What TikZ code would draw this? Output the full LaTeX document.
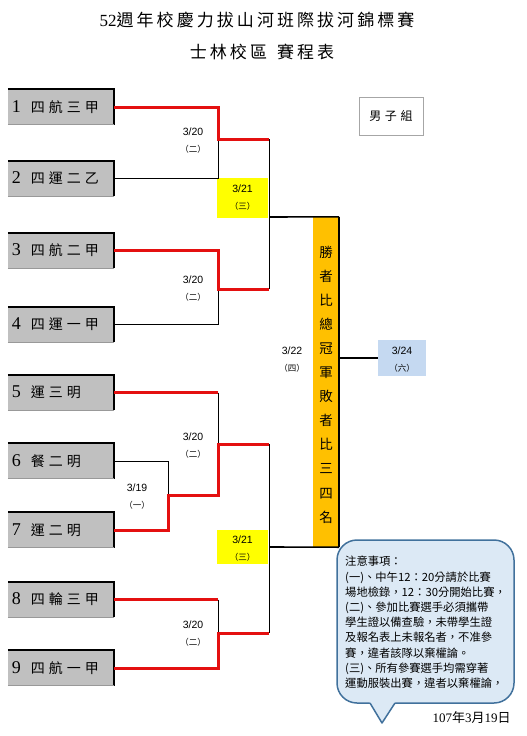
\documentclass[tikz,border=0pt]{standalone}
\usepackage{fontspec}
\setmainfont{Liberation Serif}
\newfontfamily\cjk{Noto Sans CJK TC}
\newfontfamily\cjkteam[LetterSpace=28]{Noto Sans CJK TC}
\newfontfamily\cjktitle[LetterSpace=18]{Noto Sans CJK TC}
\newfontfamily\cjkgrp[LetterSpace=30]{Noto Sans CJK TC}
\newfontfamily\datef{Liberation Sans}
\definecolor{teamgray}{RGB}{192,192,192}
\definecolor{winred}{RGB}{228,16,16}
\definecolor{ylw}{RGB}{255,255,0}
\definecolor{gold}{RGB}{255,192,0}
\definecolor{finblue}{RGB}{197,217,241}
\definecolor{notefill}{RGB}{220,233,245}
\definecolor{noteedge}{RGB}{65,113,156}
\newcommand\teamlabel[2]{{\fontsize{18}{18}\selectfont\rmfamily #1}\hspace{10pt}{\cjkteam\fontsize{14}{14}\selectfont #2}}
\newcommand\dlab[5]{\node[datetxt] (#1a) at (#2,#3) {#4}; \node[dowtxt] (#1b) at (#2,#3+17) {（#5）};}
\tikzset{
  team/.style={fill=teamgray, minimum height=35pt, text width=98pt, inner xsep=4pt, inner ysep=0pt, align=left},
  win/.style={draw=winred, line width=3pt},
  lose/.style={draw=black, line width=1pt},
  heavy/.style={draw=black, line width=1.6pt},
  datetxt/.style={font=\datef\fontsize{10.5}{12}\selectfont, inner sep=0pt},
  dowtxt/.style={font=\cjk\fontsize{8.5}{9}\selectfont, inner sep=0pt},
}
\begin{document}
\begin{tikzpicture}[x=1pt,y=-1pt]
\useasboundingbox (0,0) rectangle (527,736);
% titles
\node (title) at (257,20) {\fontsize{17}{17}\selectfont{\rmfamily 52}\cjktitle 週年校慶力拔山河班際拔河錦標賽};
\node (sub) at (262,52) {\cjktitle\fontsize{17}{17}\selectfont 士林校區\hspace{10pt}賽程表};
\node[draw=gray!70, line width=0.8pt, minimum width=64pt, minimum height=38pt, inner sep=0pt, font=\cjkgrp\fontsize{12}{12}\selectfont] (grp) at (391,116) {男子組};
% teams
\node[team] (t1) at (61,107) {\teamlabel{1}{四航三甲}};
\node[team] (t2) at (61,178.5) {\teamlabel{2}{四運二乙}};
\node[team] (t3) at (61,250.5) {\teamlabel{3}{四航二甲}};
\node[team] (t4) at (61,324.5) {\teamlabel{4}{四運一甲}};
\node[team] (t5) at (61,392.5) {\teamlabel{5}{運三明}};
\node[team] (t6) at (61,461) {\teamlabel{6}{餐二明}};
\node[team] (t7) at (61,530) {\teamlabel{7}{運二明}};
\node[team] (t8) at (61,599.5) {\teamlabel{8}{四輪三甲}};
\node[team] (t9) at (61,668) {\teamlabel{9}{四航一甲}};
\foreach \t in {t1,t2,t3,t4,t5,t6,t7,t8,t9}{
  \draw[line width=2pt] (\t.north west) -- (\t.north east) -- (\t.south east);
  \draw[gray!80, line width=0.6pt] (\t.south west) -- (\t.south east);
}
% boxes
\node[fill=ylw, minimum width=51pt, minimum height=40pt, inner sep=0pt] (y1) at (242.5,198) {};
\node[fill=ylw, minimum width=51pt, minimum height=34pt, inner sep=0pt] (y2) at (242.5,547) {};
\node[fill=gold, minimum width=26pt, minimum height=330pt, inner sep=0pt] (org) at (326,382) {};
\node[fill=finblue, minimum width=48pt, minimum height=36pt, inner sep=0pt] (fin) at (402,358) {};
% coordinates
\coordinate (m1) at (218,139);
\coordinate (s1a) at (269,139);
\coordinate (m2) at (218,289);
\coordinate (s1b) at (269,289);
\coordinate (s1j) at (269,217);
\coordinate (m0) at (168,495);
\coordinate (m3) at (218,444);
\coordinate (s2a) at (269,444);
\coordinate (m4) at (218,633);
\coordinate (s2b) at (269,633);
\coordinate (s2j) at (269,547);
% round 1 & 2
\draw[lose] (t2.east) -| (m1);
\draw[win] (t1.east) -| (m1) -- (s1a);
\draw[lose] (t4.east) -| (m2);
\draw[win] (t3.east) -| (m2) -- (s1b);
\draw[lose] (s1a) -- (s1b);
\draw[lose] (t6.east) -| (m0);
\draw[lose] (t5.east -| m3) -- (m3);
\draw[win] (t5.east) -- (t5.east -| m3);
\draw[win] (t7.east) -| (m0) -| (m3) -- (s2a);
\draw[lose] (t8.east -| m4) -- (m4);
\draw[win] (t8.east) -- (t8.east -| m4);
\draw[win] (t9.east) -| (m4) -- (s2b);
\draw[lose] (s2a) -- (s2b);
% semis to final block
\draw[heavy] (s1j) -- (org.north east);
\draw[heavy] (s2j) -- (org.south east);
\draw[line width=2pt] (org.north east) -- (org.south east);
\draw[line width=2pt] (fin.west -| org.east) -- (fin.west);
\node[font=\cjk\fontsize{13.5}{24.1}\selectfont, align=center, inner sep=0pt] (otxt) at (326,384.5) {勝\\者\\比\\總\\冠\\軍\\敗\\者\\比\\三\\四\\名};
% date labels
\dlab{d1}{193}{132}{3/20}{二}
\dlab{d2}{193}{280}{3/20}{二}
\dlab{d3}{242.5}{189}{3/21}{三}
\dlab{d4}{292}{351}{3/22}{四}
\dlab{d5}{402}{351}{3/24}{六}
\dlab{d6}{193}{437}{3/20}{二}
\dlab{d7}{137}{488}{3/19}{一}
\dlab{d8}{242.5}{540}{3/21}{三}
\dlab{d9}{193}{625}{3/20}{二}
% note callout
\draw[fill=notefill, draw=noteedge, line width=1.5pt, rounded corners=20pt] (337,540) rectangle (514,703);
\fill[notefill] (369,701) -- (396,701) -- (382,723) -- cycle;
\coordinate (pa) at (370,703);
\coordinate (pt) at (382,723);
\coordinate (pb) at (395,703);
\draw[noteedge, line width=1.5pt, line join=round] (pa) -- (pt) -- (pb);
\node[anchor=north west, inner sep=0pt, align=left, font=\cjk\fontsize{11.3}{15.2}\selectfont] (note) at (345,556) {注意事項：\\(一)、中午12：20分請於比賽\\場地檢錄，12：30分開始比賽，\\(二)、參加比賽選手必須攜帶\\學生證以備查驗，未帶學生證\\及報名表上未報名者，不准參\\賽，違者該隊以棄權論。\\(三)、所有參賽選手均需穿著\\運動服裝出賽，違者以棄權論，};
\node (date) at (471.5,718) {\fontsize{13}{13}\selectfont\rmfamily 107{\cjk 年}3{\cjk 月}19{\cjk 日}};
\end{tikzpicture}
\end{document}
